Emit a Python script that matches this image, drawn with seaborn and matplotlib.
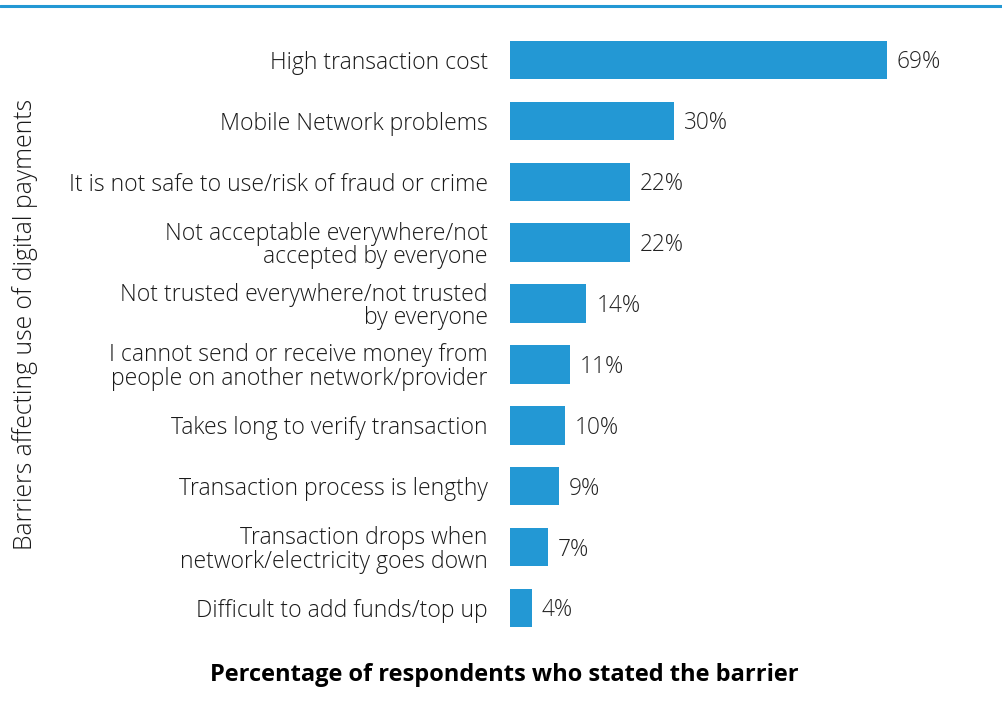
import matplotlib
matplotlib.use("Agg")
import matplotlib.pyplot as plt
from matplotlib.lines import Line2D
import seaborn as sns
import pandas as pd

categories = [
    "High transaction cost",
    "Mobile Network problems",
    "It is not safe to use/risk of fraud or crime",
    "Not acceptable everywhere/not\naccepted by everyone",
    "Not trusted everywhere/not trusted\nby everyone",
    "I cannot send or receive money from\npeople on another network/provider",
    "Takes long to verify transaction",
    "Transaction process is lengthy",
    "Transaction drops when\nnetwork/electricity goes down",
    "Difficult to add funds/top up",
]
values = [69, 30, 22, 22, 14, 11, 10, 9, 7, 4]
value_labels = ["69%", "30%", "22%", "22%", "14%", "11%", "10%", "9%", "7%", "4%"]

sns.set_style("white")
plt.rcParams['font.family'] = ['Open Sans', 'DejaVu Sans']

df = pd.DataFrame({"barrier": categories, "pct": values})

fig = plt.figure(figsize=(10.02, 7.08), dpi=100)
ax = fig.add_axes([510/1002, (708-638.5)/708, 450/1002, 609/708])
sns.barplot(data=df, x="pct", y="barrier", color="#2398d4", saturation=1,
            width=0.63, ax=ax, orient="h", linewidth=0)
ax.set_xlim(0, 450/5.46)
ax.set_ylim(9.5, -0.5)
for i, (v, lab) in enumerate(zip(values, value_labels)):
    ax.text(v + 1.8, i + 0.04, lab, va="center", ha="left", fontsize=16.3,
            color="#222222", fontweight="light")

ax.set_xticks([])
ax.tick_params(axis="y", length=0, pad=16, labelsize=16.6, labelcolor="#1a1a1a")
for lab in ax.get_yticklabels():
    lab.set_linespacing(0.97)
    lab.set_fontweight("light")
sns.despine(ax=ax, left=True, bottom=True)
ax.set_ylabel("")
ax.set_xlabel("")

fig.text(25/1002, 1 - 324/708, "Barriers affecting use of digital payments",
         rotation=90, ha="center", va="center", fontsize=17.8, color="#1a1a1a",
         fontweight="light")
fig.text(504/1002, 1 - 675/708, "Percentage of respondents who stated the barrier",
         ha="center", va="center", fontsize=17, fontweight="bold", color="#000000")
fig.add_artist(Line2D([0, 1], [1 - 6/708, 1 - 6/708], transform=fig.transFigure,
                      color="#2398d4", linewidth=2.2))

fig.savefig("out.png", dpi=100)
